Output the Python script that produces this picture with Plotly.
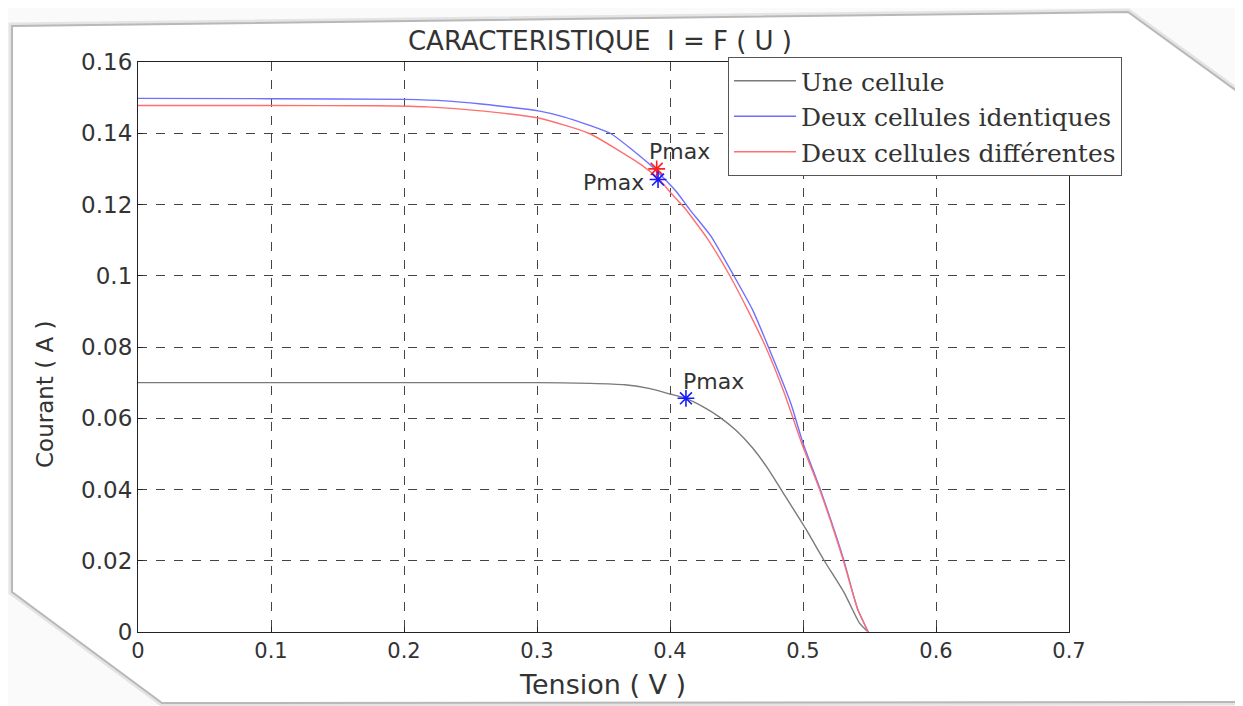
import plotly.graph_objects as go

# ---- data ----
v_une = [0, 0.1, 0.2, 0.3, 0.34, 0.366, 0.385, 0.40, 0.412, 0.425, 0.437, 0.450, 0.462, 0.473, 0.484, 0.502, 0.516, 0.531, 0.5425, 0.549]
i_une = [0.0700, 0.0700, 0.0700, 0.0700, 0.0698, 0.0694, 0.0683, 0.0668, 0.0656, 0.0632, 0.0604, 0.0565, 0.0517, 0.0462, 0.0397, 0.0290, 0.0200, 0.0110, 0.0025, 0.0]

v_ident = [0, 0.1, 0.2, 0.231, 0.258, 0.302, 0.320, 0.355, 0.384, 0.395, 0.405, 0.415, 0.431, 0.448, 0.462, 0.474, 0.491, 0.500, 0.513, 0.530, 0.541, 0.549]
i_ident = [0.1498, 0.1497, 0.1495, 0.1491, 0.1482, 0.1462, 0.1446, 0.1400, 0.1315, 0.1275, 0.1235, 0.1185, 0.1110, 0.1000, 0.0905, 0.0800, 0.0640, 0.0530, 0.0400, 0.0210, 0.0065, 0.0]

v_diff = [0, 0.1, 0.18, 0.218, 0.26, 0.302, 0.339, 0.379, 0.392, 0.400, 0.411, 0.428, 0.445, 0.459, 0.472, 0.486, 0.499, 0.513, 0.530, 0.541, 0.549]
i_diff = [0.1478, 0.1478, 0.1477, 0.1474, 0.1462, 0.1442, 0.1400, 0.1310, 0.1270, 0.1235, 0.1190, 0.1105, 0.1000, 0.0900, 0.0800, 0.0670, 0.0530, 0.0395, 0.0205, 0.0065, 0.0]

pmax_une = (0.412, 0.0656)
pmax_diff = (0.390, 0.1300)
pmax_ident = (0.391, 0.1270)

x_ticks = [0, 0.1, 0.2, 0.3, 0.4, 0.5, 0.6, 0.7]
x_ticktext = ["0", "0.1", "0.2", "0.3", "0.4", "0.5", "0.6", "0.7"]
y_ticks = [0, 0.02, 0.04, 0.06, 0.08, 0.1, 0.12, 0.14, 0.16]
y_ticktext = ["0", "0.02", "0.04", "0.06", "0.08", "0.1", "0.12", "0.14", "0.16"]

names = ["Une cellule", "Deux cellules identiques", "Deux cellules différentes"]

# ---- layout geometry (page body has an 8px margin) ----
OFF = 8
W, H = 1243 - OFF, 706 - OFF
ML, MT = 138 - OFF, 62 - OFF
MR = W - (1069 - OFF)
MB = H - (632 - OFF)
PW, PH = W - ML - MR, H - MT - MB

def px(x):
    """reference-pixel x -> paper fraction"""
    return (x - OFF - ML) / PW

def py(y):
    """reference-pixel y -> paper fraction"""
    return (H + OFF - MB - y) / PH

fig = go.Figure()

fig.add_trace(go.Scatter(x=v_une, y=i_une, mode="lines", name=names[0],
                         line=dict(color="#7a7a7a", width=1.4, shape="spline", smoothing=0.5)))
fig.add_trace(go.Scatter(x=v_ident, y=i_ident, mode="lines", name=names[1],
                         line=dict(color="#6f6fff", width=1.4, shape="spline", smoothing=0.5)))
fig.add_trace(go.Scatter(x=v_diff, y=i_diff, mode="lines", name=names[2],
                         line=dict(color="#ff6f6f", width=1.4, shape="spline", smoothing=0.5)))

for pt, col in [(pmax_une, "#1a1aff"), (pmax_diff, "#ff2020"), (pmax_ident, "#1a1aff")]:
    fig.add_trace(go.Scatter(x=[pt[0]], y=[pt[1]], mode="markers", showlegend=False,
                             marker=dict(symbol="asterisk-open", size=14, color=col,
                                         line=dict(color=col, width=1.6))))

ann_font = dict(family="DejaVu Sans", size=22, color="#333333")
annotations = [
    dict(x=0.408, y=0.0702, text="Pmax", showarrow=False, xanchor="left", yanchor="middle", font=ann_font),
    dict(x=0.383, y=0.1349, text="Pmax", showarrow=False, xanchor="left", yanchor="middle", font=ann_font),
    dict(x=0.382, y=0.1262, text="Pmax", showarrow=False, xanchor="right", yanchor="middle", font=ann_font),
    # axis titles
    dict(x=px(45), y=py(395), xref="paper", yref="paper", text="Courant ( A )", textangle=-90,
         showarrow=False, xanchor="center", yanchor="middle",
         font=dict(family="DejaVu Sans", size=23, color="#333333")),
    dict(x=px(602), y=py(684), xref="paper", yref="paper", text="Tension ( V )",
         showarrow=False, xanchor="center", yanchor="middle",
         font=dict(family="DejaVu Sans", size=27, color="#333333")),
]

# page outline (decorative frame)
pts = [(12, 26), (1128, 12), (1238, 92), (1238, 702), (162, 703), (12, 592)]
path = "M " + " L ".join(f"{px(a):.4f},{py(b):.4f}" for a, b in pts) + " Z"
shapes = [
    dict(type="path", path=path, xref="paper", yref="paper", layer="below",
         line=dict(color="#e4e4e4", width=7), fillcolor="rgba(0,0,0,0)"),
    dict(type="path", path=path, xref="paper", yref="paper", layer="below",
         line=dict(color="#b8b8b8", width=2), fillcolor="white"),
]

fig.update_layout(
    width=W, height=H,
    margin=dict(l=ML, r=MR, t=MT, b=MB),
    paper_bgcolor="#fafafa",
    plot_bgcolor="white",
    title=dict(text="CARACTERISTIQUE  I = F ( U )", xref="container", yref="container",
               x=(600 - OFF) / W, y=1 - (41 - OFF) / H,
               xanchor="center", yanchor="middle",
               font=dict(family="DejaVu Sans", size=26, color="#333333")),
    showlegend=True,
    legend=dict(x=px(728), y=py(57), xanchor="left", yanchor="top",
                bgcolor="white", bordercolor="#555555", borderwidth=1,
                font=dict(family="DejaVu Serif", size=25, color="#333333"),
                tracegroupgap=0, itemwidth=62),
    annotations=annotations,
    shapes=shapes,
)

axis_common = dict(showline=True, linecolor="#222222", linewidth=1.2, mirror=True,
                   showgrid=True, gridcolor="#444444", griddash="dash", gridwidth=1.2,
                   ticks="inside", ticklen=5, tickcolor="#222222", zeroline=False,
                   automargin=False)

fig.update_xaxes(range=[0, 0.7], tickvals=x_ticks, ticktext=x_ticktext,
                 tickfont=dict(family="DejaVu Sans", size=21, color="#333333"),
                 **axis_common)
fig.update_yaxes(range=[0, 0.16], tickvals=y_ticks, ticktext=y_ticktext,
                 tickfont=dict(family="DejaVu Sans", size=23, color="#333333"),
                 **axis_common)

fig.write_html("out.html")
